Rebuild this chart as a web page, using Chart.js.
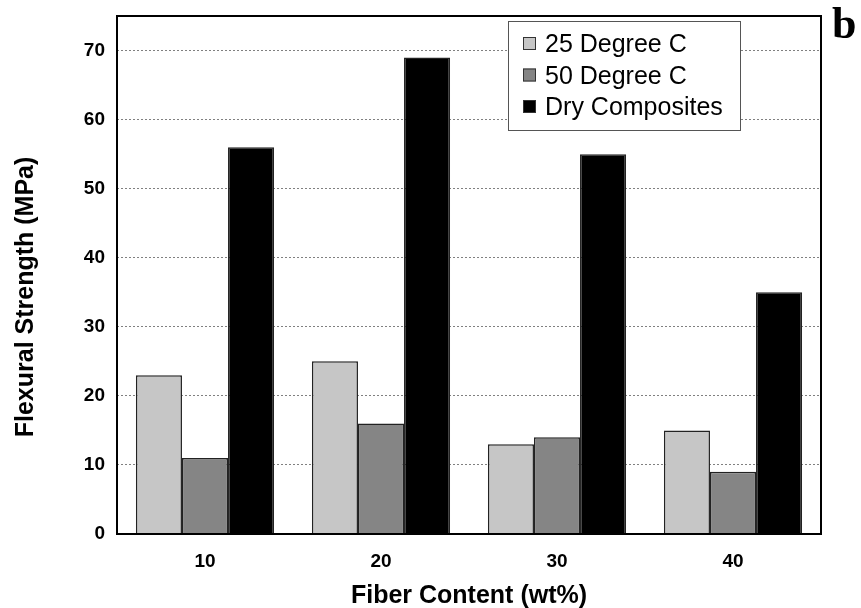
<!DOCTYPE html>
<html>
<head>
<meta charset="utf-8">
<script src="https://cdn.jsdelivr.net/npm/chart.js@4.4.1/dist/chart.umd.min.js"></script>
<style>
  html, body { margin: 0; padding: 0; background: #fff; }
  #wrap { width: 861px; height: 608px; position: relative; }
</style>
</head>
<body>
<div id="wrap"><canvas id="barChart" width="861" height="608"></canvas></div>
<script>
// Data
const fiberContent = ['10', '20', '30', '40'];
const deg25 = [23, 25, 13, 15];
const deg50 = [11, 16, 14, 9];
const dryComposites = [56, 69, 55, 35];
const yTicks = [0, 10, 20, 30, 40, 50, 60, 70];

const seriesLabels = ['25 Degree C', '50 Degree C', 'Dry Composites'];
const seriesColors = ['#c6c6c6', '#858585', '#000000'];
const xTitle = 'Fiber Content (wt%)';
const yTitle = 'Flexural Strength (MPa)';

const SANS = '"Liberation Sans", Arial, sans-serif';

// Plot frame, axis titles, in-plot legend and panel letter
const framePlugin = {
  id: 'frame',
  afterDatasetsDraw(chart) {
    const { ctx, chartArea: a } = chart;
    ctx.save();
    ctx.strokeStyle = '#000';
    ctx.lineWidth = 2;
    ctx.strokeRect(a.left, a.top, a.right - a.left, a.bottom - a.top);
    ctx.restore();
  },
  afterDraw(chart) {
    const ctx = chart.ctx;
    const a = chart.chartArea;
    ctx.save();
    ctx.fillStyle = '#000';
    ctx.font = 'bold 25px ' + SANS;
    ctx.textAlign = 'center';
    ctx.textBaseline = 'alphabetic';
    ctx.fillText(xTitle, (a.left + a.right) / 2, 603);
    ctx.save();
    ctx.translate(33, 297);
    ctx.rotate(-Math.PI / 2);
    ctx.fillText(yTitle, 0, 0);
    ctx.restore();

    // legend box
    const bx = 508, by = 21, bw = 232, bh = 109;
    ctx.fillStyle = '#fff';
    ctx.fillRect(bx, by, bw, bh);
    ctx.strokeStyle = '#555';
    ctx.lineWidth = 1;
    ctx.strokeRect(bx + 0.5, by + 0.5, bw, bh);
    ctx.font = '25px ' + SANS;
    ctx.textAlign = 'left';
    chart.data.datasets.forEach((ds, i) => {
      const base = 52 + i * 31.5;
      ctx.fillStyle = ds.backgroundColor;
      ctx.fillRect(bx + 15, base - 15, 13, 13);
      ctx.strokeStyle = '#333';
      ctx.strokeRect(bx + 15.5, base - 14.5, 12, 12);
      ctx.fillStyle = '#000';
      ctx.fillText(ds.label, bx + 37, base);
    });
    // panel letter
    ctx.font = 'bold 44px "Liberation Serif", "Times New Roman", serif';
    ctx.fillStyle = '#000';
    ctx.fillText('b', 832, 38);
    ctx.restore();
  }
};

const ctx = document.getElementById('barChart').getContext('2d');
const barChart = new Chart(ctx, {
  type: 'bar',
  data: {
    labels: fiberContent,
    datasets: [deg25, deg50, dryComposites].map((d, i) => ({
      label: seriesLabels[i],
      data: d,
      backgroundColor: seriesColors[i],
      borderColor: '#222',
      borderWidth: 1.5,
      categoryPercentage: 0.785,
      barPercentage: 1.0
    }))
  },
  options: {
    responsive: false,
    animation: false,
    layout: { padding: { top: 16, right: 40, left: 0, bottom: 0 } },
    plugins: {
      legend: { display: false },
      tooltip: { enabled: false }
    },
    scales: {
      x: {
        grid: { display: false },
        border: { display: false },
        ticks: {
          color: '#000',
          padding: 8,
          font: { family: SANS, size: 19, weight: 'bold' }
        },
        afterFit(scale) {
          scale.height = 74;
          scale.paddingLeft = 0;
          scale.paddingRight = 0;
        }
      },
      y: {
        min: 0,
        max: 75,
        afterBuildTicks(scale) { scale.ticks = yTicks.map(v => ({ value: v })); },
        grid: {
          drawTicks: false,
          color: c => c.tick && c.tick.value === 0 ? 'rgba(0,0,0,0)' : '#808080',
          lineWidth: 1
        },
        border: { display: false, dash: [2, 2] },
        ticks: {
          color: '#000',
          padding: 12,
          font: { family: SANS, size: 19, weight: 'bold' }
        },
        afterFit(scale) {
          scale.width = 117;
          scale.paddingTop = 0;
          scale.paddingBottom = 0;
        }
      }
    }
  },
  plugins: [framePlugin]
});
</script>
</body>
</html>
